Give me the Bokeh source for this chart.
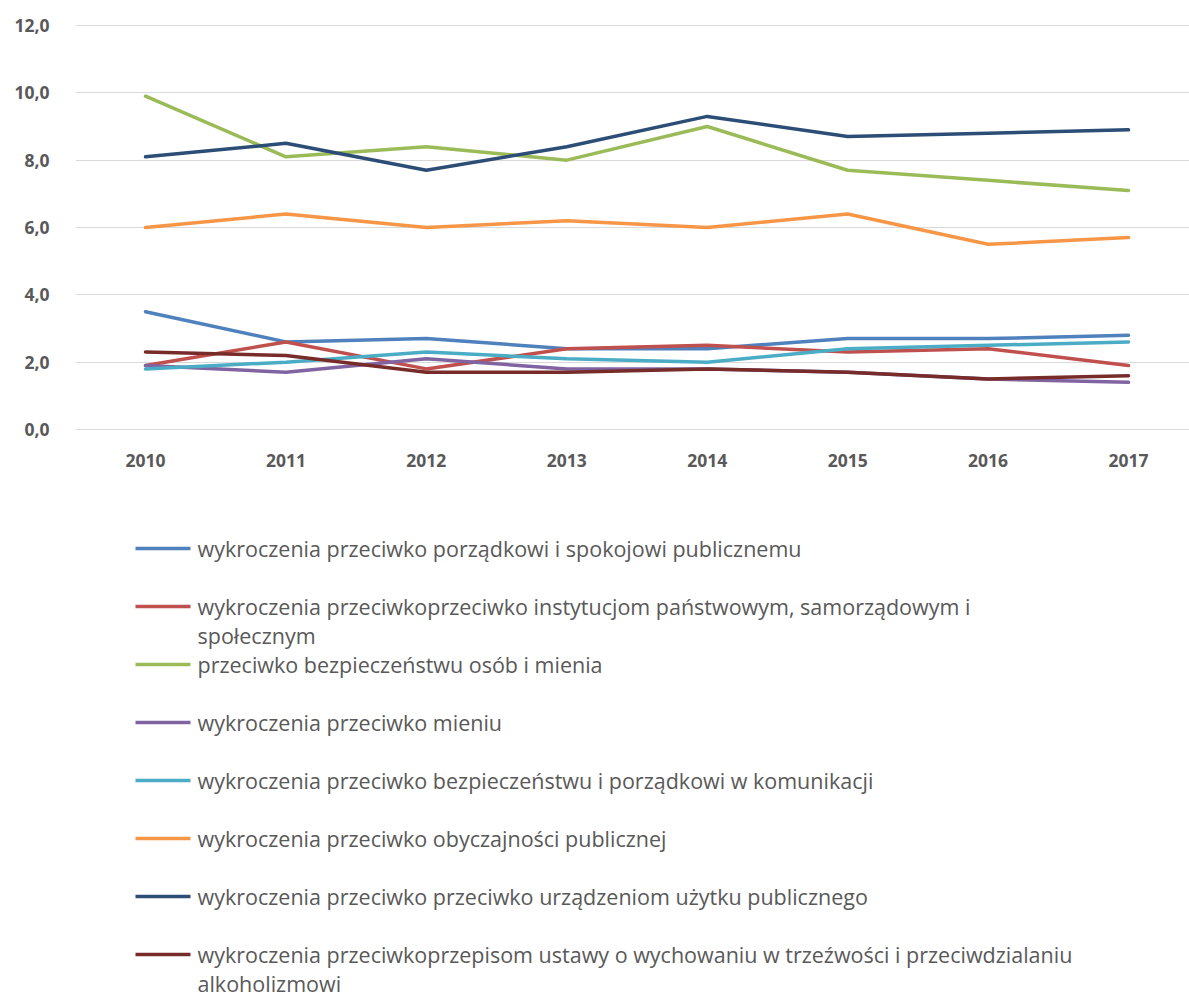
from bokeh.plotting import figure
from bokeh.models import Range1d, FixedTicker, CustomJSTickFormatter
from bokeh.core.properties import value
from bokeh.embed import file_html
from bokeh.resources import INLINE

years = [2010, 2011, 2012, 2013, 2014, 2015, 2016, 2017]
year_labels = [str(y) for y in years]
y_ticks = [0, 2, 4, 6, 8, 10, 12]

porzadkowi = [3.5, 2.6, 2.7, 2.4, 2.4, 2.7, 2.7, 2.8]
instytucjom = [1.9, 2.6, 1.8, 2.4, 2.5, 2.3, 2.4, 1.9]
bezpieczenstwu_osob = [9.9, 8.1, 8.4, 8.0, 9.0, 7.7, 7.4, 7.1]
mieniu = [1.9, 1.7, 2.1, 1.8, 1.8, 1.7, 1.5, 1.4]
komunikacji = [1.8, 2.0, 2.3, 2.1, 2.0, 2.4, 2.5, 2.6]
obyczajnosci = [6.0, 6.4, 6.0, 6.2, 6.0, 6.4, 5.5, 5.7]
urzadzeniom = [8.1, 8.5, 7.7, 8.4, 9.3, 8.7, 8.8, 8.9]
alkoholizmowi = [2.3, 2.2, 1.7, 1.7, 1.8, 1.7, 1.5, 1.6]

series_labels = [
    "wykroczenia przeciwko porządkowi i spokojowi publicznemu",
    "wykroczenia przeciwkoprzeciwko instytucjom państwowym, samorządowym i\nspołecznym",
    "przeciwko bezpieczeństwu osób i mienia",
    "wykroczenia przeciwko mieniu",
    "wykroczenia przeciwko bezpieczeństwu i porządkowi  w komunikacji",
    "wykroczenia przeciwko obyczajności publicznej",
    "wykroczenia przeciwko przeciwko urządzeniom użytku publicznego",
    "wykroczenia przeciwkoprzepisom ustawy o wychowaniu w trzeźwości i przeciwdzialaniu\nalkoholizmowi",
]
series_values = [porzadkowi, instytucjom, bezpieczenstwu_osob, mieniu,
                 komunikacji, obyczajnosci, urzadzeniom, alkoholizmowi]
colors = ["#4F81BD", "#C0504D", "#9BBB59", "#8064A2",
          "#4BACC6", "#F79646", "#2C4D75", "#772C2A"]

TEXT = "#595959"
W, H = 1189, 1001
LEFT, TOP = 75, 20
# plot geometry (page pixels): value 0 at y=429, value 12 at y=25
PX_PER_UNIT = (429 - 25) / 12.0
PX_PER_YEAR = (1128 - 145) / 7.0
x_start = 2010 - (145 - LEFT) / PX_PER_YEAR
x_end = x_start + (W - LEFT) / PX_PER_YEAR
y_end = 12 + (25 - TOP) / PX_PER_UNIT
y_start = -(H - 429) / PX_PER_UNIT

p = figure(width=W, height=H,
           x_range=Range1d(x_start, x_end), y_range=Range1d(y_start, y_end),
           output_backend="svg", toolbar_location=None,
           x_axis_location=None,
           min_border_left=LEFT, min_border_right=0, min_border_top=TOP,
           min_border_bottom=0)
p.extra_x_ranges = {"px": Range1d(LEFT, W)}
p.extra_y_ranges = {"py": Range1d(H, TOP)}
p.outline_line_color = None
p.xgrid.grid_line_color = None
p.ygrid.ticker = FixedTicker(ticks=y_ticks)
p.ygrid.grid_line_color = "#D9D9D9"
p.ygrid.grid_line_width = 1

p.yaxis.ticker = FixedTicker(ticks=y_ticks)
p.yaxis.formatter = CustomJSTickFormatter(code="return tick.toFixed(1).replace('.', ',');")
p.yaxis.axis_line_color = None
p.yaxis.major_tick_line_color = None
p.yaxis.minor_tick_line_color = None
p.yaxis.major_tick_out = 0
p.yaxis.major_tick_in = 0
p.yaxis.major_label_text_font = "Open Sans"
p.yaxis.major_label_text_font_style = "bold"
p.yaxis.major_label_text_font_size = "17.5px"
p.yaxis.major_label_text_color = TEXT
p.yaxis.major_label_standoff = 26

for vals, c in zip(series_values, colors):
    p.line(years, vals, line_color=c, line_width=3.5, line_join="round", line_cap="round")

# category (year) labels under the plot
p.text(x=years, y=[460] * len(years), text=year_labels, y_range_name="py",
       text_font=value("Open Sans"), text_font_style="bold", text_font_size="17.5px",
       text_color=TEXT, text_align="center", text_baseline="middle")

# legend below the plot (page-pixel coordinates via extra ranges)
row_step = 58.0
line_step = 29
first_y = 548
tx, ty, tt = [], [], []
x0s, x1s, ys = [], [], []
for i, lab in enumerate(series_labels):
    yc = first_y + row_step * i
    ys.append(yc)
    x0s.append(135)
    x1s.append(190)
    for j, part in enumerate(lab.split("\n")):
        tx.append(197)
        ty.append(yc + line_step * j)
        tt.append(part)

p.segment(x0=x0s, y0=ys, x1=x1s, y1=ys, line_color=colors, line_width=3.5,
          x_range_name="px", y_range_name="py")
p.text(x=tx, y=ty, text=tt, x_range_name="px", y_range_name="py",
       text_font=value("Open Sans"), text_font_size="21.5px",
       text_color=TEXT, text_baseline="middle", text_align="left")

open("out.html", "w").write(file_html(p, INLINE))
